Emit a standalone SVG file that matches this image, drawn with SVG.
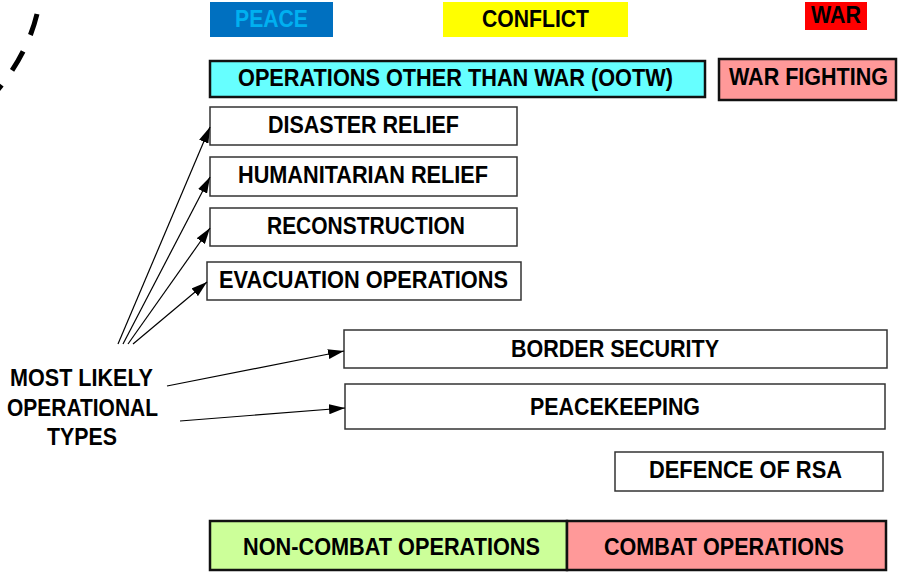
<svg xmlns="http://www.w3.org/2000/svg" width="898" height="572" viewBox="0 0 898 572">
  <defs>
    <marker id="arrow" viewBox="0 0 16 10" refX="16" refY="5" markerWidth="16" markerHeight="10" markerUnits="userSpaceOnUse" orient="auto">
      <path d="M0,0 L16,5 L0,10 Z" fill="#000"/>
    </marker>
    <style>
      text { font-family: "Liberation Sans", Arial, sans-serif; font-weight: bold; font-size: 23px; fill: #000; }
      .box { fill: #fff; stroke: #333; stroke-width: 1.5; }
      .bar { stroke: #111; stroke-width: 2.5; }
      .conn { fill: none; stroke: #000; stroke-width: 1.2; marker-end: url(#arrow); }
    </style>
  </defs>
  <rect width="898" height="572" fill="#fff"/>

  <!-- dashed arc at top left -->
  <path d="M37,14 Q27,55 -4,92" fill="none" stroke="#000" stroke-width="5" stroke-dasharray="22 18"/>

  <!-- phase headers -->
  <g id="peace">
    <rect x="210" y="2" width="123" height="35" fill="#0070C0"/>
    <text x="235" y="27" textLength="73" lengthAdjust="spacingAndGlyphs" style="fill:#00B0F0">PEACE</text>
  </g>
  <g id="conflict">
    <rect x="443" y="2" width="185" height="35" fill="#FFFF00"/>
    <text x="482" y="27" textLength="107" lengthAdjust="spacingAndGlyphs">CONFLICT</text>
  </g>
  <g id="war">
    <rect x="805" y="2" width="62" height="28" fill="#FF0000"/>
    <text x="811" y="23" textLength="50" lengthAdjust="spacingAndGlyphs">WAR</text>
  </g>

  <!-- operation categories -->
  <g id="ootw">
    <rect x="210" y="61" width="495" height="36" fill="#66FFFF" class="bar"/>
    <text x="238" y="86" textLength="435" lengthAdjust="spacingAndGlyphs">OPERATIONS OTHER THAN WAR (OOTW)</text>
  </g>
  <g id="war-fighting">
    <rect x="719" y="59" width="177" height="41" fill="#FF9999" class="bar"/>
    <text x="729" y="85" textLength="159" lengthAdjust="spacingAndGlyphs">WAR FIGHTING</text>
  </g>

  <!-- operation types -->
  <g id="disaster-relief">
    <rect x="210" y="107" width="307" height="38" class="box"/>
    <text x="268" y="133" textLength="191" lengthAdjust="spacingAndGlyphs">DISASTER RELIEF</text>
  </g>
  <g id="humanitarian-relief">
    <rect x="210" y="157" width="307" height="39" class="box"/>
    <text x="238" y="183" textLength="250" lengthAdjust="spacingAndGlyphs">HUMANITARIAN RELIEF</text>
  </g>
  <g id="reconstruction">
    <rect x="210" y="208" width="307" height="38" class="box"/>
    <text x="267" y="234" textLength="198" lengthAdjust="spacingAndGlyphs">RECONSTRUCTION</text>
  </g>
  <g id="evacuation-operations">
    <rect x="207" y="262" width="314" height="38" class="box"/>
    <text x="219" y="288" textLength="289" lengthAdjust="spacingAndGlyphs">EVACUATION OPERATIONS</text>
  </g>
  <g id="border-security">
    <rect x="344" y="330" width="543" height="38" class="box"/>
    <text x="511" y="357" textLength="208" lengthAdjust="spacingAndGlyphs">BORDER SECURITY</text>
  </g>
  <g id="peacekeeping">
    <rect x="345" y="384" width="540" height="45" class="box"/>
    <text x="530" y="415" textLength="170" lengthAdjust="spacingAndGlyphs">PEACEKEEPING</text>
  </g>
  <g id="defence-of-rsa">
    <rect x="615" y="452" width="268" height="39" class="box"/>
    <text x="649" y="478" textLength="193" lengthAdjust="spacingAndGlyphs">DEFENCE OF RSA</text>
  </g>

  <!-- combat scale -->
  <g id="non-combat-operations">
    <rect x="210" y="521" width="357" height="49" fill="#CCFF99" class="bar"/>
    <text x="243" y="555" textLength="297" lengthAdjust="spacingAndGlyphs">NON-COMBAT OPERATIONS</text>
  </g>
  <g id="combat-operations">
    <rect x="567" y="521" width="319" height="49" fill="#FF9999" class="bar"/>
    <text x="604" y="555" textLength="240" lengthAdjust="spacingAndGlyphs">COMBAT OPERATIONS</text>
  </g>

  <!-- label -->
  <g id="most-likely">
    <text x="10" y="386" textLength="143" lengthAdjust="spacingAndGlyphs">MOST LIKELY</text>
    <text x="7" y="416" textLength="151" lengthAdjust="spacingAndGlyphs">OPERATIONAL</text>
    <text x="47" y="445" textLength="70" lengthAdjust="spacingAndGlyphs">TYPES</text>
  </g>

  <!-- connectors -->
  <g id="connectors">
    <line x1="118" y1="344" x2="210" y2="127" class="conn"/>
    <line x1="123" y1="344" x2="210" y2="177" class="conn"/>
    <line x1="128" y1="344" x2="210" y2="228" class="conn"/>
    <line x1="133" y1="344" x2="207" y2="282" class="conn"/>
    <line x1="167" y1="386" x2="344" y2="351" class="conn"/>
    <line x1="180" y1="421" x2="345" y2="408" class="conn"/>
  </g>
</svg>
